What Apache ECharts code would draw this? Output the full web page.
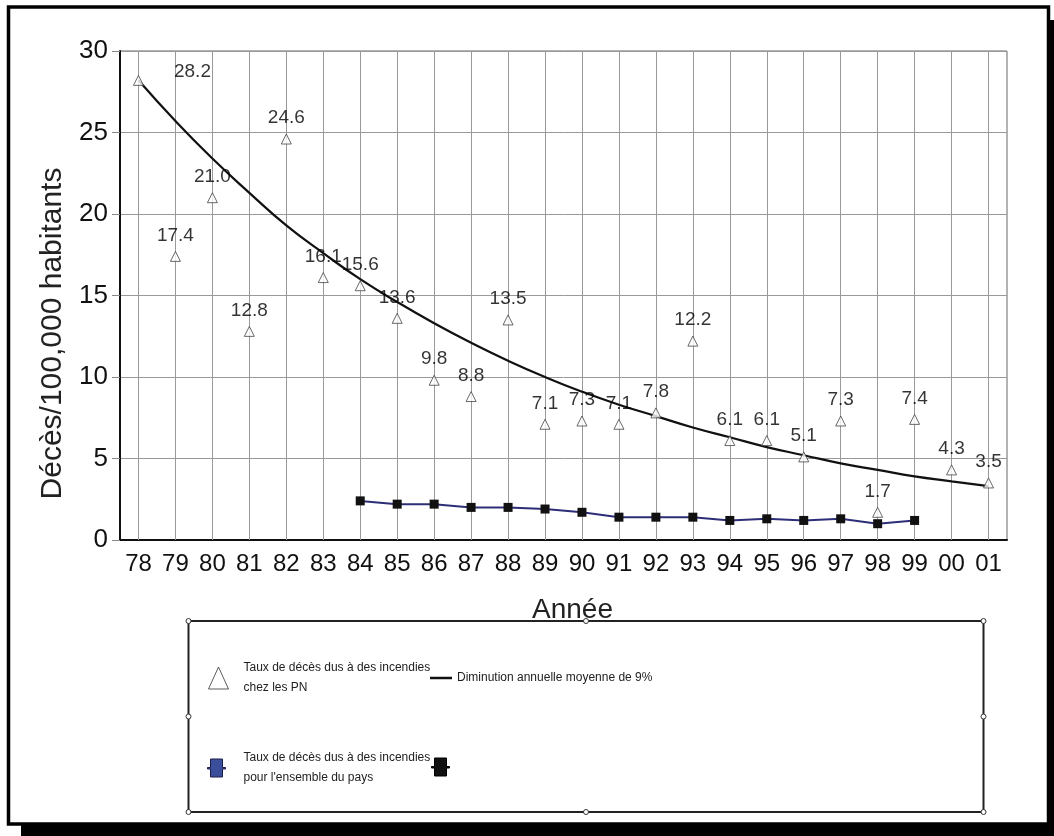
<!DOCTYPE html>
<html>
<head>
<meta charset="utf-8">
<title>Taux de décès dus à des incendies</title>
<script src="https://cdn.jsdelivr.net/npm/echarts@6/dist/echarts.min.js"></script>
<style>
    html, body { margin: 0; padding: 0; background: #fff; }
    #chart { width: 1054px; height: 836px; }
</style>
</head>
<body>
<div id="chart"></div>
<script>
// données
var annees = ['78','79','80','81','82','83','84','85','86','87','88','89','90','91','92','93','94','95','96','97','98','99','00','01'];
var tauxPN = [28.2,17.4,21.0,12.8,24.6,16.1,15.6,13.6,9.8,8.8,13.5,7.1,7.3,7.1,7.8,12.2,6.1,6.1,5.1,7.3,1.7,7.4,4.3,3.5];
var tendance = [28.2,25.7,23.4,21.3,19.3,17.6,16.0,14.6,13.3,12.1,11.0,10.0,9.1,8.3,7.6,6.9,6.3,5.7,5.2,4.7,4.3,3.9,3.6,3.3];
var tauxPays = ['-','-','-','-','-','-',2.4,2.2,2.2,2.0,2.0,1.9,1.7,1.4,1.4,1.4,1.2,1.3,1.2,1.3,1.0,1.2,'-','-'];
var yTicks = [0, 30, 5];

var police = "'Liberation Sans', Arial, sans-serif";

var noms = {
    pn: 'Taux de décès dus à des incendies\nchez les PN',
    tend: 'Diminution annuelle moyenne de 9%',
    pays: "Taux de décès dus à des incendies\npour l'ensemble du pays",
    marque: ' '
};

var myChart = echarts.init(document.getElementById('chart'));

// étiquette du premier point décalée vers la droite
var donneesPN = tauxPN.map(function(v, i){
    if(i == 0){
        return { value: v, label: { offset: [54, 12] } };
    }
    return v;
});

function legende(nom, left, top, icon, w, h, style, ecart){
    return {
        data: [{ name: nom, icon: icon, itemStyle: style }],
        left: left,
        top: top,
        padding: 0,
        itemWidth: w,
        itemHeight: h,
        selectedMode: false,
        textStyle: { fontFamily: police, fontSize: 12, lineHeight: 20, color: '#222', padding: [0, 0, 0, ecart] }
    };
}

var carreTige = 'path://M0,8.5H3V0H15V8.5H18V10H15V18H3V10H0Z';

var option = {
    animation: false,
    backgroundColor: '#fff',
    grid: {
        left: 120, top: 51, right: 47, bottom: 296,
        show: true, borderColor: '#666', borderWidth: 1
    },
    legend: [
        legende(noms.pn, 208, 658, 'triangle', 20, 22, { color: '#fff', borderColor: '#333', borderWidth: 1 }, 10),
        legende(noms.tend, 430, 668, 'rect', 22, 2.5, { color: '#111', borderWidth: 0 }, 0),
        legende(noms.pays, 207, 748, carreTige, 18, 18, { color: '#3b4e9c', borderColor: '#1c1c4c', borderWidth: 1 }, 13),
        legende(noms.marque, 431, 757, carreTige, 18, 18, { color: '#111', borderColor: '#000', borderWidth: 1 }, 0)
    ],
    xAxis: {
        type: 'category',
        data: annees,
        boundaryGap: true,
        name: 'Année',
        nameLocation: 'middle',
        nameGap: 56,
        nameTextStyle: { fontFamily: police, fontSize: 28, color: '#222', padding: [0, 0, 0, 18] },
        axisLine: { lineStyle: { color: '#111', width: 2 } },
        axisTick: { alignWithLabel: true, length: 5, lineStyle: { color: '#888' } },
        axisLabel: { fontFamily: police, fontSize: 24, color: '#111', margin: 12 },
        splitLine: { show: false }
    },
    yAxis: {
        type: 'value',
        min: yTicks[0],
        max: yTicks[1],
        interval: yTicks[2],
        name: 'Décès/100,000 habitants',
        nameLocation: 'middle',
        nameGap: 42,
        nameTextStyle: { fontFamily: police, fontSize: 30, color: '#222', padding: [0, 76, 0, 0] },
        axisLine: { show: true, lineStyle: { color: '#111', width: 2 } },
        axisTick: { show: true, length: 8, lineStyle: { color: '#888' } },
        axisLabel: { fontFamily: police, fontSize: 26, color: '#111', margin: 12 },
        splitLine: { lineStyle: { color: '#999', width: 1 } }
    },
    series: [
        {
            // lignes verticales de la grille sur chaque année
            name: 'grille',
            type: 'line',
            data: [],
            z: 1,
            markLine: {
                silent: true,
                z: 1,
                symbol: ['none', 'none'],
                label: { show: false },
                lineStyle: { color: '#999', type: 'solid', width: 1 },
                data: annees.map(function(a){ return { xAxis: a }; })
            }
        },
        {
            name: noms.tend,
            type: 'line',
            data: tendance,
            smooth: true,
            symbol: 'none',
            z: 3,
            lineStyle: { color: '#111', width: 2.2 },
            itemStyle: { color: '#111' }
        },
        {
            name: noms.pays,
            type: 'line',
            data: tauxPays,
            symbol: 'rect',
            symbolSize: 9,
            z: 4,
            lineStyle: { color: '#2e2e78', width: 2 },
            itemStyle: { color: '#111', borderWidth: 0 }
        },
        {
            name: noms.marque,
            type: 'line',
            data: [],
            itemStyle: { color: '#111' }
        },
        {
            name: noms.pn,
            type: 'scatter',
            data: donneesPN,
            symbol: 'triangle',
            symbolSize: 10,
            z: 5,
            itemStyle: { color: '#fff', borderColor: '#444', borderWidth: 1 },
            label: {
                show: true,
                position: 'top',
                distance: 6,
                fontFamily: police,
                fontSize: 19,
                color: '#000',
                formatter: function(p){ return p.value.toFixed(1); }
            }
        }
    ],
    graphic: [
        // cadre et ombre
        { type: 'rect', z: 100, shape: { x: 8.5, y: 7, width: 1040, height: 817 }, style: { fill: 'none', stroke: '#000', lineWidth: 3.5 } },
        { type: 'rect', z: 100, shape: { x: 1050, y: 20, width: 4, height: 816 }, style: { fill: '#000' } },
        { type: 'rect', z: 100, shape: { x: 21, y: 823, width: 1033, height: 13 }, style: { fill: '#000' } },
        // boîte de la légende
        { type: 'rect', z: 90, shape: { x: 188.5, y: 621, width: 795, height: 191 }, style: { fill: 'none', stroke: '#222', lineWidth: 2 } },
        { type: 'group', z: 91, children: [
            [188.5,621],[586,621],[983.5,621],[188.5,716.5],[983.5,716.5],[188.5,812],[586,812],[983.5,812]
        ].map(function(p){
            return { type: 'circle', z: 91, shape: { cx: p[0], cy: p[1], r: 2.5 }, style: { fill: '#fff', stroke: '#333', lineWidth: 1 } };
        }) }
    ]
};

myChart.setOption(option);
</script>
</body>
</html>
